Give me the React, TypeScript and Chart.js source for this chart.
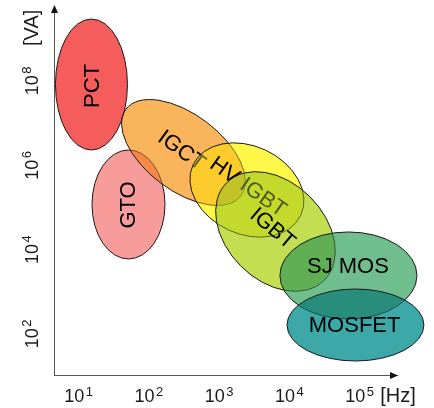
import React, { useEffect, useRef } from 'react';
import { Chart, registerables } from 'chart.js';

Chart.register(...registerables);

// Power semiconductor device families (areas on a log-log frequency / power plane)
const devices = ['PCT', 'GTO', 'IGCT', 'HV IGBT', 'IGBT', 'SJ MOS', 'MOSFET'];
// centre of each area: log10(f / Hz), log10(P / VA)
const centreLogHz = [1.184, 1.711, 2.493, 3.396, 3.802, 4.840, 4.940];
const centreLogVA = [7.916, 5.071, 6.304, 5.414, 4.430, 3.387, 2.213];
// end point of each area's long axis
const axisEndLogHz = [1.184, 1.711, 3.311, 4.163, 4.496, 5.815, 5.914];
const axisEndLogVA = [9.469, 6.363, 5.277, 4.817, 3.273, 3.387, 2.213];
// short axis / long axis
const widthRatio = [0.55, 0.67, 0.53, 0.74, 0.71, 0.635, 0.526];
// label anchor and angle
const labelLogHz = [1.184, 1.704, 2.472, 3.418, 3.766, 4.833, 4.928];
const labelLogVA = [7.881, 5.059, 6.363, 5.497, 4.513, 3.612, 2.213];
const labelAngle = [-90, -90, 36, 35, 40, 0, 0];
const fillColors = [
  'rgb(245,92,92)',
  'rgb(248,155,155)',
  'rgb(251,180,92)',
  'rgb(255,248,72)',
  'rgb(196,222,80)',
  'rgb(112,190,142)',
  'rgb(60,168,168)',
];

// axis ticks: decades (labelled 10^n) and unit labels
const xTickDecades = [1, 2, 3, 4, 5];
const yTickDecades = [2, 4, 6, 8];
const xUnit = '[Hz]';
const xUnitAt = 5.544;
const yUnit = '[VA]';
const yUnitAt = 9.26;

const xRange = [0.651, 5.531];
const yRange = [1.027, 9.754];

const FONT = 'Arial, "Liberation Sans", sans-serif';
const TEXT = '#1a1a1a';

function drawPower(ctx: CanvasRenderingContext2D, exp: string, cx: number, baseY: number) {
  ctx.font = '18px ' + FONT;
  const w10 = ctx.measureText('10').width;
  ctx.font = '13px ' + FONT;
  const wE = ctx.measureText(exp).width;
  const gap = 1.5;
  const total = w10 + gap + wE;
  const x0 = cx - total / 2;
  ctx.textAlign = 'left';
  ctx.textBaseline = 'alphabetic';
  ctx.font = '18px ' + FONT;
  ctx.fillText('10', x0, baseY);
  ctx.font = '13px ' + FONT;
  ctx.fillText(exp, x0 + w10 + gap, baseY - 6.5);
}

const areaPlugin = {
  id: 'deviceAreas',
  afterDatasetsDraw(chart: any) {
    const { ctx } = chart;
    const x = chart.scales.x;
    const y = chart.scales.y;
    devices.forEach((name, i) => {
      const cx = x.getPixelForValue(centreLogHz[i]);
      const cy = y.getPixelForValue(centreLogVA[i]);
      const ex = x.getPixelForValue(axisEndLogHz[i]);
      const ey = y.getPixelForValue(axisEndLogVA[i]);
      const a = Math.hypot(ex - cx, ey - cy);
      const b = a * widthRatio[i];
      const rot = Math.atan2(ey - cy, ex - cx);
      ctx.save();
      ctx.beginPath();
      ctx.ellipse(cx, cy, a, b, rot, 0, Math.PI * 2);
      ctx.globalCompositeOperation = 'multiply';
      ctx.fillStyle = fillColors[i];
      ctx.fill();
      ctx.globalCompositeOperation = 'source-over';
      ctx.globalAlpha = 0.4;
      ctx.fill();
      ctx.globalAlpha = 1;
      ctx.lineWidth = 1;
      ctx.strokeStyle = '#1a1a1a';
      ctx.stroke();
      const lx = x.getPixelForValue(labelLogHz[i]);
      const ly = y.getPixelForValue(labelLogVA[i]);
      ctx.translate(lx, ly);
      ctx.rotate((labelAngle[i] * Math.PI) / 180);
      ctx.font = '22px ' + FONT;
      ctx.fillStyle = '#000';
      ctx.textAlign = 'center';
      ctx.textBaseline = 'middle';
      ctx.fillText(name, 0, 1);
      ctx.restore();
    });
  },
  afterDraw(chart: any) {
    const { ctx, chartArea } = chart;
    const x = chart.scales.x;
    const y = chart.scales.y;
    ctx.save();
    ctx.fillStyle = '#111';
    // y arrow
    const lx = chartArea.left + 0.5;
    ctx.beginPath();
    ctx.moveTo(lx, chartArea.top - 2);
    ctx.lineTo(lx - 3.5, chartArea.top + 6);
    ctx.lineTo(lx + 3.5, chartArea.top + 6);
    ctx.closePath();
    ctx.fill();
    // x arrow
    const by = chartArea.bottom + 0.5;
    ctx.beginPath();
    ctx.moveTo(chartArea.right + 1, by);
    ctx.lineTo(chartArea.right - 7, by - 3.5);
    ctx.lineTo(chartArea.right - 7, by + 3.5);
    ctx.closePath();
    ctx.fill();

    // x tick labels
    ctx.fillStyle = TEXT;
    const xBase = chartArea.bottom + 27;
    xTickDecades.forEach((d) => {
      drawPower(ctx, String(d), x.getPixelForValue(d), xBase);
    });
    ctx.font = '20px ' + FONT;
    ctx.textAlign = 'center';
    ctx.textBaseline = 'alphabetic';
    ctx.fillText(xUnit, x.getPixelForValue(xUnitAt), xBase);

    // y tick labels (rotated)
    const yBase = chartArea.left - 16.5;
    yTickDecades.forEach((d) => {
      ctx.save();
      ctx.translate(yBase, y.getPixelForValue(d));
      ctx.rotate(-Math.PI / 2);
      drawPower(ctx, String(d), 0, 0);
      ctx.restore();
    });
    ctx.save();
    ctx.translate(yBase + 0.5, y.getPixelForValue(yUnitAt));
    ctx.rotate(-Math.PI / 2);
    ctx.font = '20px ' + FONT;
    ctx.textAlign = 'center';
    ctx.textBaseline = 'alphabetic';
    ctx.fillText(yUnit, 0, 0);
    ctx.restore();
    ctx.restore();
  },
};

export default function App() {
  const canvasRef = useRef<HTMLCanvasElement | null>(null);

  useEffect(() => {
    const canvas = canvasRef.current;
    if (!canvas) return;
    const chart = new Chart(canvas, {
      type: 'scatter',
      data: { datasets: [] },
      plugins: [areaPlugin],
      options: {
        animation: false,
        responsive: false,
        devicePixelRatio: 1,
        layout: { padding: { top: 7, right: 37, bottom: 0, left: 0 } },
        plugins: { legend: { display: false }, tooltip: { enabled: false } },
        scales: {
          x: {
            type: 'linear',
            min: xRange[0],
            max: xRange[1],
            grid: { display: false, drawTicks: false },
            border: { display: true, color: '#555', width: 1 },
            afterFit: (scale: any) => {
              scale.height = 33;
            },
            ticks: { display: false },
          },
          y: {
            type: 'linear',
            min: yRange[0],
            max: yRange[1],
            grid: { display: false, drawTicks: false },
            border: { display: true, color: '#555', width: 1 },
            afterFit: (scale: any) => {
              scale.width = 54;
            },
            ticks: { display: false },
          },
        },
      } as any,
    });
    return () => chart.destroy();
  }, []);

  return (
    <div style={{ position: 'fixed', left: 0, top: 0, width: 434, height: 408, background: '#fff' }}>
      <canvas ref={canvasRef} width={434} height={408} style={{ display: 'block' }} />
    </div>
  );
}
